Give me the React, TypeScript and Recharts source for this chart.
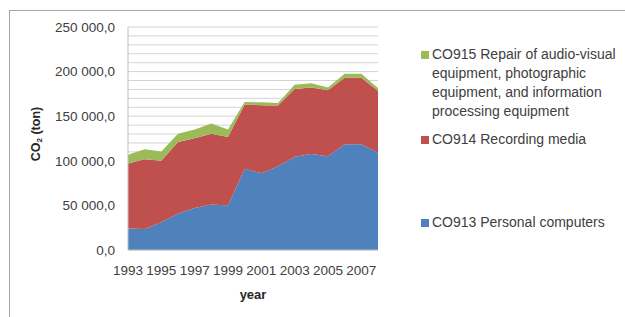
import { AreaChart, Area, XAxis, YAxis, CartesianGrid, Legend } from 'recharts';

const years = [1993, 1994, 1995, 1996, 1997, 1998, 1999, 2000, 2001, 2002, 2003, 2004, 2005, 2006, 2007, 2008];

// CO913 Personal computers
const personalComputers = [24000, 23500, 31000, 41000, 47000, 51000, 50000, 91000, 86000, 94000, 104500, 107500, 105000, 118500, 118500, 109000];
// CO914 Recording media
const recordingMedia = [73000, 78300, 69000, 80000, 78200, 79400, 76700, 72000, 76200, 68000, 75900, 74700, 74000, 74500, 74500, 69500];
// CO915 Repair of audio-visual ... equipment
const repair = [9700, 11200, 10400, 9400, 10000, 11500, 8500, 3000, 3400, 2800, 4800, 4800, 3200, 4500, 4500, 3000];

// labelled ticks, and the finer gridline values
const yTicks = [0, 50000, 100000, 150000, 200000, 250000];
const gridValues = [0, 10000, 20000, 30000, 40000, 50000, 60000, 70000, 80000, 90000, 100000, 110000, 120000, 130000, 140000, 150000, 160000, 170000, 180000, 190000, 200000, 210000, 220000, 230000, 240000, 250000];

const legendLines: Record<string, string[]> = {
  co915: ['CO915 Repair of audio-visual', 'equipment, photographic', 'equipment, and information', 'processing equipment'],
  co914: ['CO914 Recording media'],
  co913: ['CO913 Personal computers'],
};

const data = years.map((year, i) => ({
  year,
  co913: personalComputers[i],
  co914: recordingMedia[i],
  co915: repair[i],
}));

const FONT = "'Liberation Sans', Arial, sans-serif";
const TEXT = '#404040';

function formatTick(v: number) {
  if (!yTicks.includes(v)) return '';
  if (v === 0) return '0,0';
  return `${v / 1000} 000,0`;
}

function LegendBox({ payload }: any) {
  const items = [...(payload || [])].reverse();
  const gaps = [9, 64, 0];
  return (
    <div style={{ fontFamily: FONT, fontSize: 14, lineHeight: '19px', color: TEXT, textAlign: 'left' }}>
      {items.map((entry: any, idx: number) => (
        <div key={entry.dataKey} style={{ position: 'relative', paddingLeft: 11, marginBottom: gaps[idx] }}>
          <span
            style={{
              position: 'absolute',
              left: 0,
              top: 6,
              width: 8,
              height: 8,
              background: entry.color,
            }}
          />
          {(legendLines[entry.dataKey] || [entry.value]).map((line) => (
            <div key={line} style={{ whiteSpace: 'nowrap' }}>{line}</div>
          ))}
        </div>
      ))}
    </div>
  );
}

export default function App() {
  return (
    <div style={{ position: 'fixed', left: 0, top: 0, width: 625, height: 317, background: '#fff', overflow: 'hidden' }}>
      <div
        style={{
          position: 'absolute',
          left: 9,
          top: 10,
          width: 640,
          height: 340,
          borderTop: '1px solid #a6a6a6',
          borderLeft: '1px solid #a6a6a6',
        }}
      />
      <div style={{ position: 'absolute', left: 0, top: 0 }}>
        <AreaChart width={625} height={317} data={data} margin={{ top: 27, right: 247, bottom: 36, left: 0 }}>
          <CartesianGrid vertical={false} stroke="#d4d4d4" />
          <XAxis
            dataKey="year"
            interval={1}
            tickLine={false}
            axisLine={{ stroke: '#bfbfbf' }}
            tickSize={6}
            tickMargin={9}
            height={31}
            tick={{ fontSize: 13.5, fill: TEXT, fontFamily: FONT }}
            label={{ value: 'year', position: 'insideBottom', offset: -18, fontSize: 13, fontWeight: 'bold', fill: '#262626', fontFamily: FONT }}
          />
          <YAxis
            domain={[0, 250000]}
            ticks={gridValues}
            interval={0}
            tickFormatter={formatTick}
            width={128}
            tickLine={false}
            axisLine={{ stroke: '#bfbfbf' }}
            tickSize={6}
            tickMargin={7}
            tick={{ fontSize: 13.5, fill: TEXT, fontFamily: FONT }}
            label={({ viewBox }: any) => (
              <text
                x={36}
                y={viewBox.y + viewBox.height * 0.48}
                transform={`rotate(-90, 36, ${viewBox.y + viewBox.height * 0.48})`}
                textAnchor="middle"
                dominantBaseline="central"
                fontSize={12.5}
                fontWeight="bold"
                fill="#262626"
                fontFamily={FONT}
              >
                CO<tspan fontSize={8} dy={3}>2</tspan><tspan dy={-3}> (ton)</tspan>
              </text>
            )}
          />
          <Legend
            layout="vertical"
            align="center"
            verticalAlign="middle"
            content={<LegendBox />}
            wrapperStyle={{ position: 'absolute', left: 421, top: 45, width: 200 }}
          />
          <Area type="linear" dataKey="co913" name="CO913 Personal computers" stackId="a" stroke="none" fill="#4f81bd" fillOpacity={1} isAnimationActive={false} />
          <Area type="linear" dataKey="co914" name="CO914 Recording media" stackId="a" stroke="none" fill="#c0504d" fillOpacity={1} isAnimationActive={false} />
          <Area type="linear" dataKey="co915" name="CO915 Repair of audio-visual equipment, photographic equipment, and information processing equipment" stackId="a" stroke="none" fill="#9bbb59" fillOpacity={1} isAnimationActive={false} />
        </AreaChart>
      </div>
    </div>
  );
}
